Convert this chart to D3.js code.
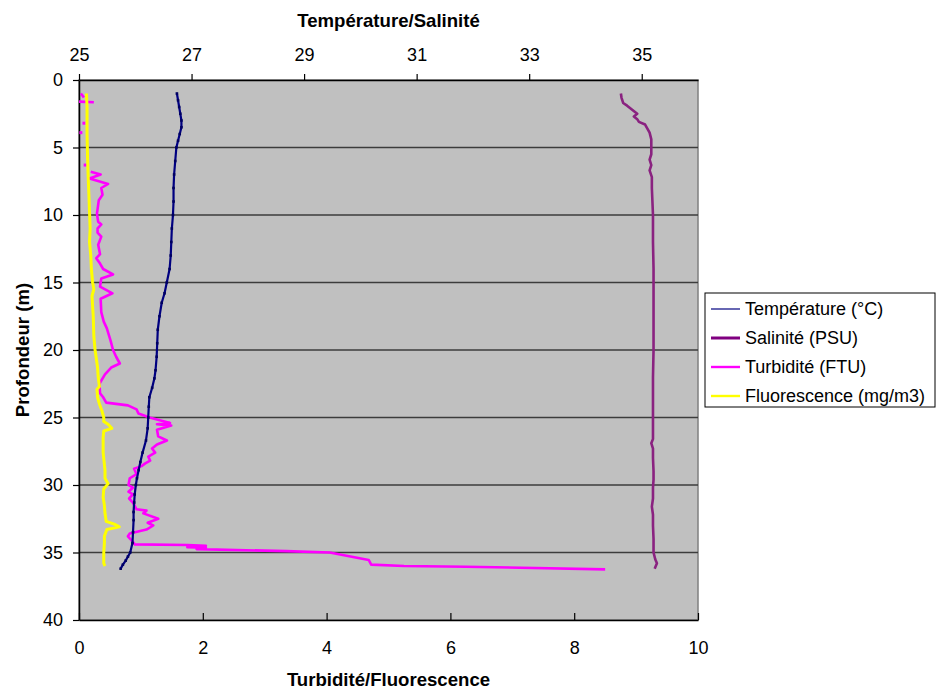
<!DOCTYPE html>
<html>
<head>
<meta charset="utf-8">
<script src="https://cdn.jsdelivr.net/npm/d3@7"></script>
<style>
  html, body { margin: 0; padding: 0; background: #ffffff; }
  svg { display: block; }
  text { font-family: "Liberation Sans", Arial, sans-serif; fill: #000; }
</style>
</head>
<body>
<svg id="chart" width="936" height="691"></svg>
<script>
// ---------------- DATA ----------------
const depthTicks = [0, 5, 10, 15, 20, 25, 30, 35, 40];
const topTicks = [25, 27, 29, 31, 33, 35];
const bottomTicks = [0, 2, 4, 6, 8, 10];

const seriesNames = ["Température (°C)", "Salinité (PSU)", "Turbidité (FTU)", "Fluorescence (mg/m3)"];

const tempDepth = [1.0, 1.5, 2.0, 2.5, 3.0, 3.5, 4.0, 4.5, 5.0, 6.0, 7.0, 8.0, 9.0, 10.0, 11.0, 12.0, 13.0, 14.0, 15.0, 15.8, 16.5, 17.5, 18.5, 19.5, 20.5, 21.5, 22.1, 22.8, 23.5, 24.2, 25.0, 25.8, 26.7, 27.6, 28.3, 28.9, 29.5, 30.0, 30.7, 31.3, 32.0, 32.6, 33.5, 34.3, 35.0, 35.3, 35.6, 35.9, 36.2];
const tempValue = [26.74, 26.76, 26.78, 26.80, 26.82, 26.82, 26.79, 26.76, 26.73, 26.71, 26.69, 26.68, 26.68, 26.67, 26.65, 26.64, 26.63, 26.61, 26.56, 26.52, 26.47, 26.43, 26.40, 26.39, 26.38, 26.36, 26.34, 26.30, 26.25, 26.24, 26.23, 26.22, 26.19, 26.13, 26.09, 26.06, 26.03, 26.01, 25.99, 25.98, 25.97, 25.97, 25.96, 25.95, 25.91, 25.87, 25.83, 25.78, 25.74];

const salDepth = [1.0, 1.3, 1.7, 1.9, 2.2, 2.5, 2.7, 2.9, 3.1, 3.3, 3.6, 3.9, 4.4, 5.0, 5.5, 5.9, 6.3, 6.7, 7.2, 8.0, 9.0, 10.0, 12.0, 14.0, 16.0, 18.0, 20.0, 22.0, 24.0, 25.5, 26.6, 26.9, 27.3, 28.0, 29.0, 29.6, 30.2, 31.0, 31.6, 32.2, 33.0, 34.0, 35.0, 35.5, 35.8, 36.0, 36.2];
const salValue = [34.63, 34.64, 34.67, 34.74, 34.83, 34.92, 34.86, 34.92, 34.95, 35.06, 35.10, 35.14, 35.17, 35.17, 35.17, 35.14, 35.17, 35.14, 35.18, 35.18, 35.19, 35.20, 35.20, 35.21, 35.21, 35.21, 35.21, 35.20, 35.20, 35.20, 35.20, 35.17, 35.20, 35.20, 35.21, 35.21, 35.20, 35.20, 35.18, 35.20, 35.20, 35.21, 35.21, 35.24, 35.27, 35.25, 35.23];

// null = gap in the record
const turbDepth = [1.0, 1.3, 1.45, 1.6, 1.65, 2.5, 3.2, 3.5, 3.9, 5.0, 6.3, 6.5, 6.8, 7.0, 7.3, 7.7, 8.0, 8.5, 8.9, 9.9, 10.5, 10.7, 11.0, 11.3, 11.6, 12.2, 12.9, 13.2, 13.6, 14.0, 14.4, 14.7, 15.3, 15.8, 16.2, 17.2, 17.9, 18.4, 19.3, 20.0, 20.5, 21.0, 21.3, 21.8, 22.5, 23.2, 23.5, 23.9, 24.1, 24.4, 24.7, 25.0, 25.4, 25.5, 25.6, 25.9, 26.4, 26.7, 27.0, 27.3, 27.6, 27.9, 28.2, 28.4, 28.6, 28.8, 29.2, 29.5, 30.0, 30.2, 30.5, 30.7, 31.0, 31.3, 31.8, 31.9, 32.1, 32.5, 32.8, 33.0, 33.3, 33.6, 33.8, 34.1, 34.4, 34.45, 34.5, 34.6, 34.65, 34.75, 34.9, 35.0, 35.55, 35.9, 36.0, 36.05, 36.25];
const turbValue = [0.03, 0.08, null, 0.00, 0.24, null, 0.08, null, 0.03, null, 0.10, null, 0.19, 0.35, 0.17, 0.47, 0.36, 0.38, 0.32, 0.29, 0.31, 0.36, 0.30, 0.30, 0.36, 0.31, 0.34, 0.28, 0.34, 0.39, 0.55, 0.36, 0.34, 0.54, 0.35, 0.36, 0.40, 0.45, 0.51, 0.55, 0.60, 0.66, 0.52, 0.42, 0.33, 0.34, 0.39, 0.44, 0.79, 0.93, 0.96, 1.14, 1.47, 1.26, 1.49, 1.26, 1.28, 1.42, 1.26, 1.18, 1.23, 1.12, 1.15, 1.07, 1.01, 0.89, 0.93, 0.82, 0.80, 0.87, 0.80, 0.87, 0.81, 0.87, 0.93, 1.09, 1.04, 1.28, 1.11, 1.20, 1.09, 0.82, 0.79, 0.85, 0.90, 1.75, 2.05, 1.75, 2.05, 1.90, 3.35, 4.05, 4.68, 4.72, 5.25, 6.25, 8.50];

const fluoDepth = [1.0, 2.0, 4.0, 6.0, 7.4, 8.5, 9.8, 11.0, 12.0, 13.0, 14.0, 15.0, 15.5, 16.0, 17.5, 19.0, 20.0, 21.3, 22.0, 22.7, 22.9, 23.5, 24.0, 24.5, 25.0, 25.3, 25.5, 25.8, 26.0, 26.5, 27.6, 28.9, 29.5, 29.9, 30.3, 30.9, 31.5, 32.1, 32.7, 32.9, 33.1, 33.3, 33.8, 34.3, 35.0, 35.8, 36.0];
const fluoValue = [0.12, 0.13, 0.13, 0.14, 0.15, 0.16, 0.17, 0.18, 0.17, 0.19, 0.20, 0.22, 0.24, 0.21, 0.23, 0.24, 0.26, 0.30, 0.31, 0.33, 0.29, 0.30, 0.33, 0.37, 0.40, 0.40, 0.47, 0.53, 0.40, 0.39, 0.39, 0.42, 0.42, 0.47, 0.40, 0.39, 0.41, 0.42, 0.44, 0.57, 0.65, 0.45, 0.41, 0.41, 0.40, 0.40, 0.42];

// ---------------- CHART ----------------
const svg = d3.select("#chart");
const L = 79, R = 698, T = 80, B = 620;

const y = d3.scaleLinear().domain([0, 40]).range([T, B]);
const xTop = d3.scaleLinear().domain([25, 36]).range([L, R]);
const xBot = d3.scaleLinear().domain([0, 10]).range([L, R]);

// plot background
svg.append("rect").attr("x", L).attr("y", T).attr("width", R - L).attr("height", B - T)
  .attr("fill", "#c0c0c0").attr("stroke", "#808080").attr("stroke-width", 1.5);

// gridlines
svg.append("g").selectAll("line").data(depthTicks.filter(d => d > 0 && d < 40)).join("line")
  .attr("x1", L).attr("x2", R).attr("y1", d => y(d)).attr("y2", d => y(d))
  .attr("stroke", "#3c3c3c").attr("stroke-width", 1.6);

const fontTick = "18px";

// left axis
const gL = svg.append("g").attr("transform", `translate(${L},0)`)
  .call(d3.axisLeft(y).tickValues(depthTicks).tickSize(6).tickSizeOuter(0).tickPadding(10));
// top axis
const gT = svg.append("g").attr("transform", `translate(0,${T})`)
  .call(d3.axisTop(xTop).tickValues(topTicks).tickSize(6).tickSizeOuter(0).tickPadding(13));
// bottom axis (inward ticks)
const gB = svg.append("g").attr("transform", `translate(0,${B})`)
  .call(d3.axisBottom(xBot).tickValues(bottomTicks).tickSizeInner(-7).tickSizeOuter(0).tickPadding(21));

[gL, gT, gB].forEach(g => {
  g.selectAll(".domain").attr("stroke", "#000").attr("stroke-width", 1.5);
  g.selectAll(".tick line").attr("stroke", "#000").attr("stroke-width", 1.2);
  g.selectAll("text").attr("font-size", fontTick).attr("font-family", "'Liberation Sans', Arial, sans-serif").attr("fill", "#000");
});

// series helpers
function pts(depths, values) { return depths.map((d, i) => ({ d, v: values[i] })); }
const lineBot = d3.line().defined(p => p.v != null).x(p => xBot(p.v)).y(p => y(p.d));
const lineTop = d3.line().defined(p => p.v != null).x(p => xTop(p.v)).y(p => y(p.d));

const plot = svg.append("g");

// Turbidity
const turb = pts(turbDepth, turbValue);
plot.append("path").datum(turb).attr("d", lineBot)
  .attr("fill", "none").attr("stroke", "#ff00ff").attr("stroke-width", 2.6).attr("stroke-linejoin", "round");
// isolated points (neighbours are gaps)
plot.append("g").selectAll("rect")
  .data(turb.filter((p, i) => p.v != null && (i === 0 || turb[i - 1].v == null) && (i === turb.length - 1 || turb[i + 1].v == null)))
  .join("rect")
  .attr("x", p => xBot(p.v) - 1.5).attr("y", p => y(p.d) - 1.5).attr("width", 3).attr("height", 3).attr("fill", "#ff00ff");

// Fluorescence
plot.append("path").datum(pts(fluoDepth, fluoValue)).attr("d", lineBot)
  .attr("fill", "none").attr("stroke", "#ffff00").attr("stroke-width", 3).attr("stroke-linejoin", "round");

// Temperature
const tempPts = pts(tempDepth, tempValue);
plot.append("path").datum(tempPts).attr("d", lineTop)
  .attr("fill", "none").attr("stroke", "#000080").attr("stroke-width", 2.2).attr("stroke-linejoin", "round");
plot.append("g").selectAll("rect").data(tempPts).join("rect")
  .attr("x", p => xTop(p.v) - 1.3).attr("y", p => y(p.d) - 1.3).attr("width", 2.6).attr("height", 2.6)
  .attr("fill", "#000060");

// Salinity
plot.append("path").datum(pts(salDepth, salValue)).attr("d", lineTop)
  .attr("fill", "none").attr("stroke", "#8a2280").attr("stroke-width", 2.6).attr("stroke-linejoin", "round");

// axis titles
svg.append("text").attr("x", (L + R) / 2).attr("y", 27).attr("text-anchor", "middle")
  .attr("font-size", "18.6px").attr("font-weight", "bold").text("Température/Salinité");
svg.append("text").attr("x", (L + R) / 2).attr("y", 686).attr("text-anchor", "middle")
  .attr("font-size", "18.6px").attr("font-weight", "bold").text("Turbidité/Fluorescence");
svg.append("text").attr("transform", `translate(29,${(T + B) / 2}) rotate(-90)`).attr("text-anchor", "middle")
  .attr("font-size", "18.6px").attr("font-weight", "bold").text("Profondeur (m)");

// legend
const legColors = ["#000080", "#800080", "#ff00ff", "#ffff00"];
const legWidths = [1.2, 3, 2.4, 2.4];
const lg = svg.append("g");
lg.append("rect").attr("x", 705).attr("y", 293).attr("width", 230).attr("height", 114)
  .attr("fill", "#ffffff").attr("stroke", "#000").attr("stroke-width", 1);
const items = lg.selectAll("g.item").data(seriesNames).join("g").attr("class", "item")
  .attr("transform", (d, i) => `translate(0,${309 + i * 29})`);
items.append("line").attr("x1", 711).attr("x2", 740).attr("y1", 0).attr("y2", 0)
  .attr("stroke", (d, i) => legColors[i]).attr("stroke-width", (d, i) => legWidths[i]);
items.append("text").attr("x", 745).attr("y", 0).attr("dy", "0.35em")
  .attr("font-size", "18px").text(d => d);
</script>
</body>
</html>
